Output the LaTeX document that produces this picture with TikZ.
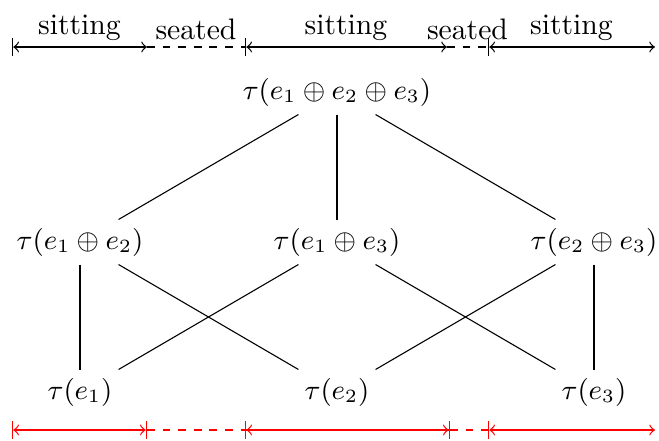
\documentclass[tikz,border=0pt]{standalone}
\begin{document}
\begin{tikzpicture}[x=0.32pt,y=-0.32pt,
  lbl/.style={above,font=\fontsize{9.5}{11}\selectfont,inner sep=2pt},
  mathnode/.style={inner sep=2.5pt,font=\fontsize{9}{11}\selectfont},
  link/.style={line width=0.35pt},
  gap/.style={dash pattern=on 2.5pt off 2.5pt}]
\useasboundingbox (0,0) rectangle (659,440);
% nodes
\node[mathnode] (top) at (337,92) {$\tau(e_1\oplus e_2\oplus e_3)$};
\node[mathnode] (m12) at (80,242) {$\tau(e_1\oplus e_2)$};
\node[mathnode] (m13) at (337,242) {$\tau(e_1\oplus e_3)$};
\node[mathnode] (m23) at (594,242) {$\tau(e_2\oplus e_3)$};
\node[mathnode] (b1) at (80,392) {$\tau(e_1)$};
\node[mathnode] (b2) at (337,392) {$\tau(e_2)$};
\node[mathnode] (b3) at (594,392) {$\tau(e_3)$};
% links
\draw[link] (top) -- (m12);
\draw[link] (top) -- (m13);
\draw[link] (top) -- (m23);
\draw[link] (m12) -- (b1);
\draw[link] (m12) -- (b2);
\draw[link] (m13) -- (b1);
\draw[link] (m13) -- (b3);
\draw[link] (m23) -- (b2);
\draw[link] (m23) -- (b3);
% top timeline
\coordinate (t0) at (12,47);
\coordinate (t1) at (147,47);
\coordinate (t2) at (245,47);
\coordinate (t3) at (447,47);
\coordinate (t4) at (488,47);
\coordinate (t5) at (655,47);
\draw[|<->] (t0) -- node[lbl]{sitting} (t1);
\draw[gap] (t1) -- node[lbl]{seated} (t2);
\draw[|<->] (t2) -- node[lbl]{sitting} (t3);
\draw[gap] (t3) -- node[lbl]{seated} (t4);
\draw[|<->] (t4) -- node[lbl]{sitting} (t5);
% bottom red timeline
\coordinate (r0) at (12,430);
\coordinate (r1) at (147,430);
\coordinate (r2) at (245,430);
\coordinate (r3) at (450,430);
\coordinate (r4) at (488,430);
\coordinate (r5) at (655,430);
\draw[red,|<->|] (r0) -- (r1);
\draw[red,gap] (r1) -- (r2);
\draw[red,|<->|] (r2) -- (r3);
\draw[red,gap] (r2) -- (r3);
\draw[red,gap] (r3) -- (r4);
\draw[red,|<->] (r4) -- (r5);
\end{tikzpicture}
\end{document}
